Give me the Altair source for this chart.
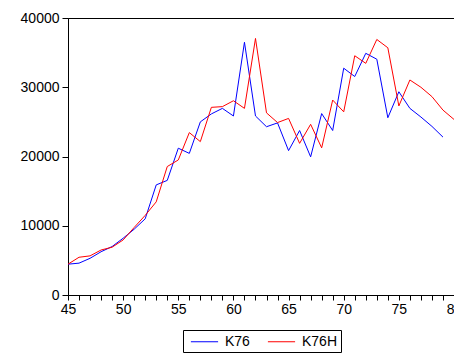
import altair as alt
import pandas as pd

years_k76 = list(range(45, 80))
k76 = [4450, 4600, 5300, 6250, 7000, 8200, 9500, 11000, 15900, 16550,
       21200, 20450, 25000, 26150, 26950, 25850, 36500, 25850, 24300, 24850,
       20850, 23750, 19950, 26200, 23750, 32750, 31550, 34900, 34050, 25600,
       29350, 26950, 25700, 24350, 22800]

years_k76h = list(range(45, 81))
k76h = [4450, 5450, 5650, 6500, 6900, 7950, 9750, 11500, 13450, 18550,
        19500, 23450, 22150, 27100, 27200, 28050, 26950, 37050, 26300, 24900,
        25500, 21900, 24650, 21250, 28150, 26450, 34550, 33450, 36900, 35700,
        27300, 31050, 30000, 28650, 26700, 25350]

series_names = ["K76", "K76H"]
series_colors = ["#0000ff", "#ff0000"]
x_ticks = list(range(45, 81))
y_ticks = [0, 10000, 20000, 30000, 40000]

df = pd.concat([
    pd.DataFrame({"year": years_k76, "value": k76, "series": "K76"}),
    pd.DataFrame({"year": years_k76h, "value": k76h, "series": "K76H"}),
])

chart = alt.Chart(df).mark_line(strokeWidth=1).encode(
    x=alt.X("year:Q",
            scale=alt.Scale(domain=[45, 80], nice=False, zero=False),
            axis=alt.Axis(values=x_ticks, title=None, grid=False,
                          labelExpr="datum.value % 5 == 0 ? datum.label : ''",
                          tickSize=5, labelPadding=2, labelFlush=False)),
    y=alt.Y("value:Q",
            scale=alt.Scale(domain=[0, 40000], nice=False),
            axis=alt.Axis(values=y_ticks, title=None, grid=False, format="d",
                          tickSize=6, labelPadding=3)),
    color=alt.Color("series:N",
                    scale=alt.Scale(domain=series_names, range=series_colors),
                    legend=alt.Legend(title=None, orient="none", legendX=115,
                                      legendY=312, direction="horizontal",
                                      symbolType="M-1.7,0H1.7", symbolSize=256,
                                      symbolOffset=10, symbolStrokeWidth=1,
                                      symbolFillColor="transparent",
                                      strokeColor="black",
                                      padding=3, labelFontSize=14,
                                      columnPadding=13, labelOffset=12)),
).properties(
    width=386, height=277,
    autosize=alt.AutoSizeParams(type="none"),
    padding={"left": 60, "top": 10, "right": 0, "bottom": 60},
).configure_view(
    stroke="black", strokeWidth=1
).configure_axis(
    labelFont="Liberation Sans", labelFontSize=14, labelColor="black",
    domainColor="black", tickColor="black"
).configure_legend(
    labelFont="Liberation Sans", labelColor="black"
)

chart.save("out.html", embed_options={"renderer": "svg", "actions": False})
